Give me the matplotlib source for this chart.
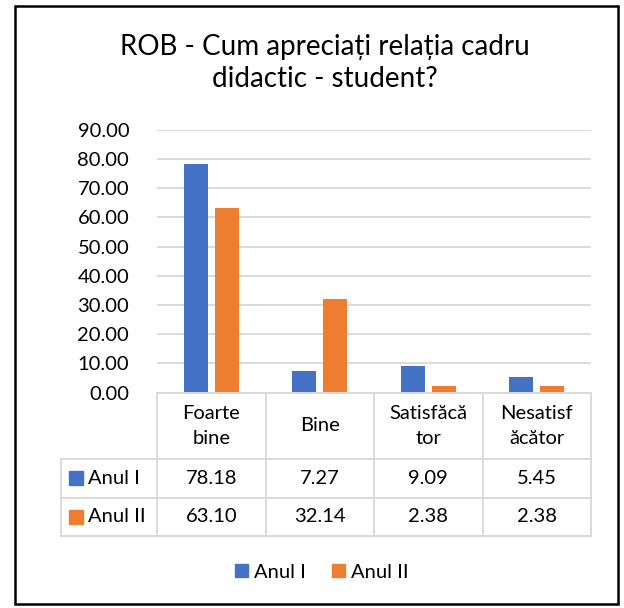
import numpy as np
import matplotlib.pyplot as plt
from matplotlib.lines import Line2D
from matplotlib.patches import Rectangle
import matplotlib.transforms as mtransforms

plt.rcParams['font.family'] = ['Lato', 'DejaVu Sans']

# data
categories = ['Foarte\nbine', 'Bine', 'Satisfăcă\ntor', 'Nesatisf\năcător']
series = ['Anul I', 'Anul II']
anul1 = [78.18, 7.27, 9.09, 5.45]
anul2 = [63.10, 32.14, 2.38, 2.38]
colors = ['#4472C4', '#ED7D31']

W, H = 624, 608
fig = plt.figure(figsize=(W / 100, H / 100), dpi=100)

def fx(px):
    return px / W

def fy(py):
    return 1 - py / H

# plot area in pixels
left, right, top, bottom = 157, 591, 130, 392.5
ax = fig.add_axes([fx(left), fy(bottom), fx(right - left), (bottom - top) / H])

x = np.arange(len(categories))
w = 0.224
off = 0.143
ax.bar(x - off, anul1, w, color=colors[0], zorder=3)
ax.bar(x + off, anul2, w, color=colors[1], zorder=3)

fs = 14.5
ax.set_xlim(-0.5, len(categories) - 0.5)
ax.set_ylim(0, 90)
ax.set_yticks(np.arange(0, 91, 10))
ax.set_yticklabels([f'{v:.2f}' for v in np.arange(0, 91, 10)], fontsize=fs, color='#000000')
ax.tick_params(axis='y', length=0, pad=20)
ax.set_xticks([])
ax.grid(axis='y', color='#D9D9D9', linewidth=1.3, zorder=0)
for s in ax.spines.values():
    s.set_visible(False)

# title
fig.text(fx(325), fy(63), 'ROB - Cum apreciați relația cadru\ndidactic - student?',
         ha='center', va='center', fontsize=20, linespacing=1.3)

# data table
grid_c = '#D9D9D9'
col_edges = [157, 266, 374, 483, 591]
rows = [392.5, 459, 497.5, 535.7]
tleft = 61

def hline(y, x0, x1):
    fig.add_artist(Line2D([fx(x0), fx(x1)], [fy(y), fy(y)], color=grid_c, lw=1.4))

def vline(xp, y0, y1):
    fig.add_artist(Line2D([fx(xp), fx(xp)], [fy(y0), fy(y1)], color=grid_c, lw=1.4))

hline(rows[0], col_edges[0], col_edges[-1])
for r in rows[1:]:
    hline(r, tleft, col_edges[-1])
vline(tleft, rows[1], rows[-1])
for c in col_edges:
    vline(c, rows[0], rows[-1])

blend = mtransforms.blended_transform_factory(ax.transData, fig.transFigure)
for i, cat in enumerate(categories):
    ax.text(i, fy((rows[0] + rows[1]) / 2), cat, transform=blend, ha='center', va='center',
            fontsize=fs, linespacing=1.6, clip_on=False)
    ax.text(i, fy((rows[1] + rows[2]) / 2), f'{anul1[i]:.2f}', transform=blend,
            ha='center', va='center', fontsize=fs, clip_on=False)
    ax.text(i, fy((rows[2] + rows[3]) / 2), f'{anul2[i]:.2f}', transform=blend,
            ha='center', va='center', fontsize=fs, clip_on=False)

for j, (name, col) in enumerate(zip(series, colors)):
    yc = (rows[1 + j] + rows[2 + j]) / 2
    fig.add_artist(Rectangle((fx(69), fy(yc + 7)), fx(14), 14 / H, color=col))
    fig.text(fx(88), fy(yc), name, ha='left', va='center', fontsize=fs)

# legend
handles = [Rectangle((0, 0), 1, 1, color=c) for c in colors]
fig.legend(handles, series, loc='center', bbox_to_anchor=(fx(322), fy(572)), ncol=2,
           frameon=False, fontsize=fs, handlelength=0.65, handleheight=0.65,
           handletextpad=0.3, columnspacing=1.3)

# outer frame
fig.add_artist(Rectangle((fx(15), fy(604)), fx(603), (604 - 6) / H, fill=False,
                         edgecolor='black', lw=1.8))

fig.savefig('out.png', dpi=100)
